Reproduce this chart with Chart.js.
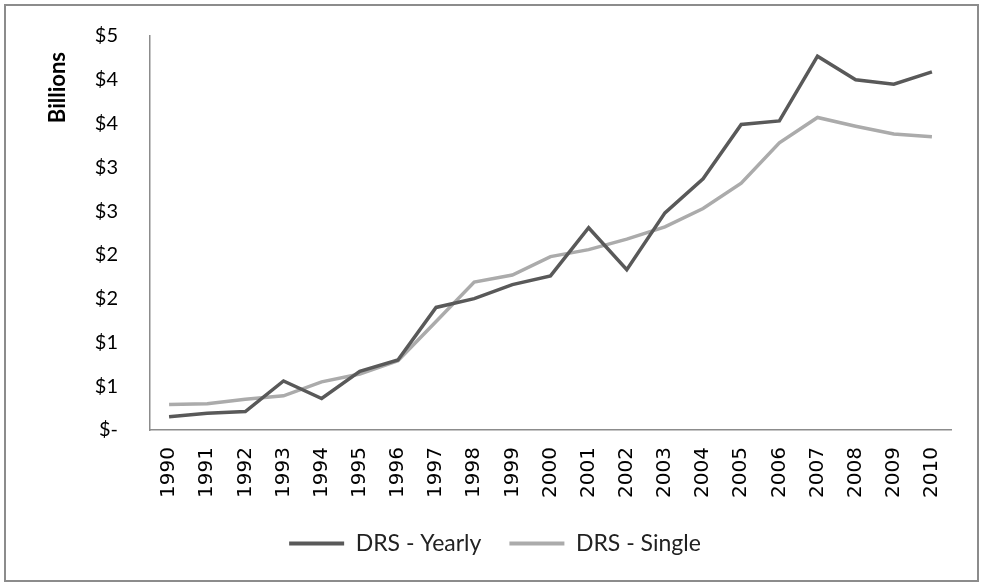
<!DOCTYPE html>
<html>
<head>
<meta charset="utf-8">
<script src="https://cdn.jsdelivr.net/npm/chart.js@4.4.1/dist/chart.umd.min.js"></script>
<style>
  html, body { margin: 0; padding: 0; background: #fff; }
  #box { width: 983px; height: 584px; }
</style>
</head>
<body>
<div id="box"><canvas id="drsChart" width="983" height="584"></canvas></div>
<script>
// Années (catégories)
const annees = ['1990', '1991', '1992', '1993', '1994', '1995', '1996', '1997', '1998', '1999', '2000',
  '2001', '2002', '2003', '2004', '2005', '2006', '2007', '2008', '2009', '2010'];

// Valeurs en milliards de dollars
const drsYearly = [0.15, 0.19, 0.21, 0.56, 0.36, 0.67, 0.80, 1.40, 1.50, 1.66, 1.76,
  2.31, 1.83, 2.48, 2.87, 3.49, 3.53, 4.27, 4.00, 3.95, 4.09];
const drsSingle = [0.29, 0.30, 0.35, 0.39, 0.55, 0.64, 0.79, 1.24, 1.69, 1.77, 1.98,
  2.06, 2.18, 2.32, 2.53, 2.82, 3.28, 3.57, 3.47, 3.38, 3.35];

// Étiquettes de l'axe Y (format comptable arrondi, pas de 0.5)
const etiquettesY = ['$-', '$1', '$1', '$2', '$2', '$3', '$3', '$4', '$4', '$5'];

// Cadre gris autour du graphique
const cadre = {
  id: 'cadre',
  afterDraw(chart) {
    const ctx = chart.ctx;
    ctx.save();
    ctx.strokeStyle = '#8c8c8c';
    ctx.lineWidth = 2;
    ctx.strokeRect(5, 5, 973, 576);
    ctx.restore();
  }
};

const data = {
  labels: annees,
  datasets: [{
    label: 'DRS - Yearly',
    data: drsYearly,
    borderColor: '#595959',
    backgroundColor: '#595959',
    borderWidth: 3.5
  }, {
    label: 'DRS - Single',
    data: drsSingle,
    borderColor: '#ababab',
    backgroundColor: '#ababab',
    borderWidth: 3.5
  }]
};

const config = {
  type: 'line',
  data: data,
  plugins: [cadre],
  options: {
    responsive: false,
    animation: false,
    layout: {
      padding: { top: 36, left: 39, right: 32, bottom: 19 }
    },
    elements: {
      point: { radius: 0 },
      line: { tension: 0 }
    },
    plugins: {
      tooltip: { enabled: false },
      legend: {
        position: 'bottom',
        labels: {
          font: { family: 'Lato', size: 23 },
          color: '#222',
          boxWidth: 55,
          boxHeight: 4,
          padding: 28,
          generateLabels(chart) {
            const items = Chart.defaults.plugins.legend.labels.generateLabels(chart);
            items.forEach(it => { it.lineWidth = 0; });
            return items;
          }
        }
      }
    },
    scales: {
      x: {
        offset: true,
        grid: { display: false, drawTicks: false },
        border: { display: true, color: '#8c8c8c', width: 1.5 },
        ticks: {
          minRotation: 90,
          maxRotation: 90,
          autoSkip: false,
          padding: 17,
          color: '#000',
          font: { family: 'DejaVu Sans', size: 20 }
        },
        afterFit(scale) {
          scale.height = 74;
          scale.paddingLeft = 0;
          scale.paddingRight = 0;
        }
      },
      y: {
        min: 0,
        max: 4.5,
        grid: { display: false, drawTicks: false },
        border: { display: true, color: '#8c8c8c', width: 1.5 },
        ticks: {
          stepSize: 0.5,
          padding: 32,
          color: '#000',
          font: { family: 'Lato', size: 20 },
          callback: (v, i) => etiquettesY[i]
        },
        title: {
          display: true,
          text: 'Billions   ',
          align: 'end',
          color: '#000',
          font: { family: 'Lato', size: 22, weight: 'bold' },
          padding: { top: 6, bottom: 0 }
        },
        afterFit(scale) {
          scale.width = 111;
          scale.paddingTop = 0;
          scale.paddingBottom = 0;
        }
      }
    }
  }
};

const drsChart = new Chart(document.getElementById('drsChart'), config);
</script>
</body>
</html>
